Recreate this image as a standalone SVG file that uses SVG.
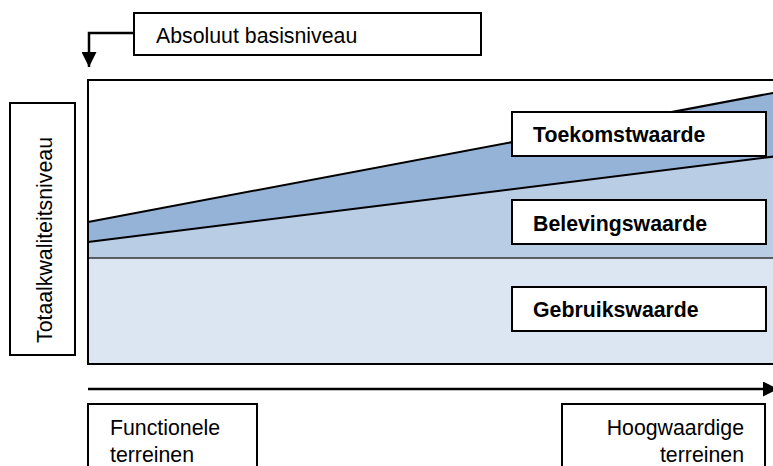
<svg xmlns="http://www.w3.org/2000/svg" width="773" height="466" viewBox="0 0 773 466">
  <defs>
    <marker id="arrowhead" viewBox="0 0 10 10" refX="10" refY="5" markerWidth="6" markerHeight="6" orient="auto" markerUnits="strokeWidth">
      <path d="M0,0 L10,5 L0,10 Z" fill="#000"/>
    </marker>
    <style>
      .box { fill: #fff; stroke: #000; stroke-width: 2; }
      .edge { fill: none; stroke: #000; stroke-width: 2.5; }
      .band-line { fill: none; stroke: #000; stroke-width: 2; }
      .txt { font-family: "Liberation Sans", Arial, sans-serif; font-size: 21.3px; fill: #000; }
      .bold { font-weight: bold; }
    </style>
  </defs>

  <!-- value bands -->
  <g id="bands">
    <rect x="88" y="258" width="690" height="106" fill="#dce6f2"/>
    <polygon points="88,242 778,156 778,258 88,258" fill="#b9cde5"/>
    <polygon points="88,222 778,92 778,156 88,242" fill="#95b3d7"/>
    <line class="band-line" x1="88" y1="222" x2="778" y2="92"/>
    <line class="band-line" x1="88" y1="242" x2="778" y2="156"/>
    <line x1="88" y1="258" x2="778" y2="258" stroke="#333" stroke-width="1.5"/>
  </g>

  <!-- chart frame -->
  <g id="frame">
    <rect x="88" y="80" width="700" height="284" fill="none" stroke="#000" stroke-width="2"/>
  </g>

  <g id="node-absoluut">
    <rect class="box" x="134" y="13" width="347" height="42"/>
    <text class="txt" x="156" y="43">Absoluut basisniveau</text>
  </g>

  <g id="node-totaal">
    <rect class="box" x="10" y="103" width="65" height="252"/>
    <text class="txt" transform="translate(52,343) rotate(-90)">Totaalkwaliteitsniveau</text>
  </g>

  <g id="node-toekomst">
    <rect class="box" x="512" y="112" width="254" height="44"/>
    <text class="txt bold" x="533" y="142">Toekomstwaarde</text>
  </g>

  <g id="node-beleving">
    <rect class="box" x="512" y="200" width="254" height="44"/>
    <text class="txt bold" x="533" y="231">Belevingswaarde</text>
  </g>

  <g id="node-gebruik">
    <rect class="box" x="512" y="287" width="254" height="44"/>
    <text class="txt bold" x="533" y="317">Gebruikswaarde</text>
  </g>

  <g id="node-functioneel">
    <rect class="box" x="88" y="404" width="169" height="80"/>
    <text class="txt" x="110" y="435">Functionele</text>
    <text class="txt" x="110" y="462">terreinen</text>
  </g>

  <g id="node-hoogwaardig">
    <rect class="box" x="562" y="404" width="203" height="80"/>
    <text class="txt" x="744" y="435" text-anchor="end">Hoogwaardige</text>
    <text class="txt" x="744" y="462" text-anchor="end">terreinen</text>
  </g>

  <!-- connectors -->
  <g id="connectors">
    <polyline class="edge" points="134,33 89,33 89,67" marker-end="url(#arrowhead)"/>
    <line class="edge" x1="88" y1="389" x2="778" y2="389" marker-end="url(#arrowhead)"/>
  </g>
</svg>
